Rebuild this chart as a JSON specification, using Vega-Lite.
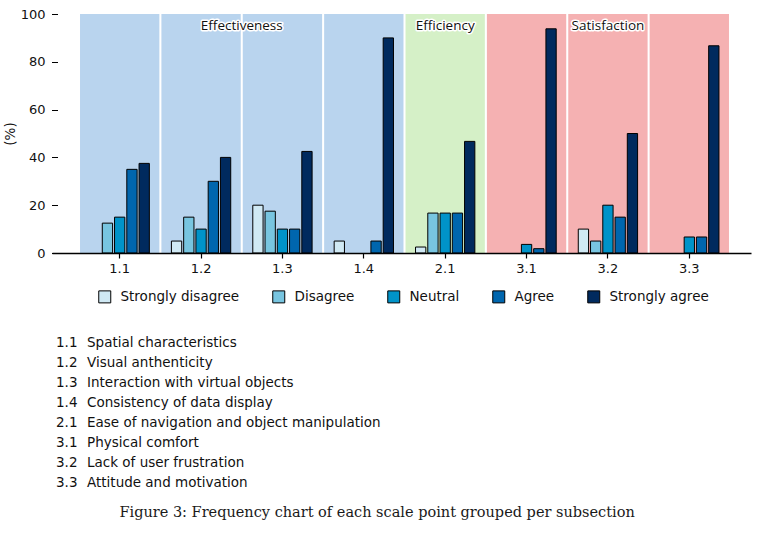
{
  "$schema": "https://vega.github.io/schema/vega-lite/v6.json",
  "background": "white",
  "padding": {"left": 3, "top": 8, "right": 5, "bottom": 5},
  "config": {
    "view": {"stroke": null},
    "font": "DejaVu Sans"
  },
  "title": {
    "text": "Figure 3: Frequency chart of each scale point grouped per subsection",
    "orient": "bottom",
    "anchor": "middle",
    "font": "DejaVu Serif",
    "fontSize": 14.5,
    "fontWeight": "normal",
    "color": "#1a1a1a",
    "offset": 16
  },
  "resolve": {"scale": {"color": "independent", "fill": "independent"}, "legend": {"color": "independent", "fill": "independent"}},
  "datasets": {
    "responses": [
      {"code": "1.1", "response": "Disagree", "pct": 12.5},
      {"code": "1.1", "response": "Neutral", "pct": 15},
      {"code": "1.1", "response": "Agree", "pct": 35},
      {"code": "1.1", "response": "Strongly agree", "pct": 37.5},
      {"code": "1.2", "response": "Strongly disagree", "pct": 5},
      {"code": "1.2", "response": "Disagree", "pct": 15},
      {"code": "1.2", "response": "Neutral", "pct": 10},
      {"code": "1.2", "response": "Agree", "pct": 30},
      {"code": "1.2", "response": "Strongly agree", "pct": 40},
      {"code": "1.3", "response": "Strongly disagree", "pct": 20},
      {"code": "1.3", "response": "Disagree", "pct": 17.5},
      {"code": "1.3", "response": "Neutral", "pct": 10},
      {"code": "1.3", "response": "Agree", "pct": 10},
      {"code": "1.3", "response": "Strongly agree", "pct": 42.5},
      {"code": "1.4", "response": "Strongly disagree", "pct": 5},
      {"code": "1.4", "response": "Agree", "pct": 5},
      {"code": "1.4", "response": "Strongly agree", "pct": 90},
      {"code": "2.1", "response": "Strongly disagree", "pct": 2.5},
      {"code": "2.1", "response": "Disagree", "pct": 16.7},
      {"code": "2.1", "response": "Neutral", "pct": 16.7},
      {"code": "2.1", "response": "Agree", "pct": 16.7},
      {"code": "2.1", "response": "Strongly agree", "pct": 46.7},
      {"code": "3.1", "response": "Neutral", "pct": 3.6},
      {"code": "3.1", "response": "Agree", "pct": 1.8},
      {"code": "3.1", "response": "Strongly agree", "pct": 93.8},
      {"code": "3.2", "response": "Strongly disagree", "pct": 10},
      {"code": "3.2", "response": "Disagree", "pct": 5},
      {"code": "3.2", "response": "Neutral", "pct": 20},
      {"code": "3.2", "response": "Agree", "pct": 15},
      {"code": "3.2", "response": "Strongly agree", "pct": 50},
      {"code": "3.3", "response": "Neutral", "pct": 6.7},
      {"code": "3.3", "response": "Agree", "pct": 6.7},
      {"code": "3.3", "response": "Strongly agree", "pct": 86.7}
    ],
    "sections": [
      {"code": "1.1", "section": "Effectiveness"},
      {"code": "1.2", "section": "Effectiveness"},
      {"code": "1.3", "section": "Effectiveness"},
      {"code": "1.4", "section": "Effectiveness"},
      {"code": "2.1", "section": "Efficiency"},
      {"code": "3.1", "section": "Satisfaction"},
      {"code": "3.2", "section": "Satisfaction"},
      {"code": "3.3", "section": "Satisfaction"}
    ],
    "sectionLabels": [
      {"code": "2.1", "label": "Efficiency"},
      {"code": "3.2", "label": "Satisfaction"}
    ],
    "items": [
      {"code": "1.1", "label": "Spatial characteristics"},
      {"code": "1.2", "label": "Visual anthenticity"},
      {"code": "1.3", "label": "Interaction with virtual objects"},
      {"code": "1.4", "label": "Consistency of data display"},
      {"code": "2.1", "label": "Ease of navigation and object manipulation"},
      {"code": "3.1", "label": "Physical comfort"},
      {"code": "3.2", "label": "Lack of user frustration"},
      {"code": "3.3", "label": "Attitude and motivation"}
    ]
  },
  "spacing": 31,
  "vconcat": [
    {
      "width": 699,
      "height": 239,
      "layer": [
        {
          "data": {"name": "sections"},
          "mark": {"type": "bar", "width": {"band": 0.975}},
          "encoding": {
            "x": {
              "field": "code", "type": "nominal",
              "scale": {"domain": ["1.1","1.2","1.3","1.4","2.1","3.1","3.2","3.3"], "paddingInner": 0, "paddingOuter": 0.295, "align": 0.5625},
              "axis": {
                "title": null, "labelAngle": 0, "domainColor": "black", "domainWidth": 1.3,
                "tickColor": "black", "tickSize": 5, "tickWidth": 1.2, "labelPadding": 4,
                "labelFont": "DejaVu Sans", "labelFontSize": 13, "labelColor": "#111", "zindex": 1
              }
            },
            "y": {
              "datum": 100, "type": "quantitative",
              "scale": {"domain": [0, 100], "nice": false},
              "axis": {
                "title": "(%)", "titleFont": "DejaVu Sans", "titleFontSize": 13.5, "titleFontWeight": "normal",
                "titleColor": "#111", "titlePadding": 3,
                "values": [0, 20, 40, 60, 80, 100], "domain": false, "grid": false,
                "offset": -5.5, "tickSize": 6, "tickColor": "black", "tickWidth": 1,
                "labelPadding": 6.5, "labelFont": "DejaVu Sans", "labelFontSize": 13, "labelColor": "#111"
              }
            },
            "fill": {
              "field": "section", "type": "nominal",
              "scale": {"domain": ["Effectiveness", "Efficiency", "Satisfaction"], "range": ["#b9d4ee", "#d5f0c7", "#f5b1b2"]},
              "legend": null
            }
          }
        },
        {
          "data": {"name": "responses"},
          "mark": {"type": "bar", "stroke": "black", "strokeWidth": 1},
          "encoding": {
            "x": {"field": "code", "type": "nominal"},
            "xOffset": {
              "field": "response", "type": "nominal",
              "scale": {"domain": ["Strongly disagree", "Disagree", "Neutral", "Agree", "Strongly agree"], "paddingInner": 0.16, "paddingOuter": 0.9}
            },
            "y": {"field": "pct", "type": "quantitative"},
            "color": {
              "field": "response", "type": "nominal",
              "scale": {"domain": ["Strongly disagree", "Disagree", "Neutral", "Agree", "Strongly agree"], "range": ["#d0e9f4", "#78c5e0", "#0093c9", "#0066ae", "#002a5e"]},
              "legend": {
                "orient": "none", "legendX": 46, "legendY": 276,
                "direction": "horizontal", "title": null,
                "symbolType": "square", "symbolSize": 144, "symbolStrokeColor": "black", "symbolStrokeWidth": 1,
                "labelFont": "DejaVu Sans", "labelFontSize": 13.5, "labelColor": "#111",
                "columnPadding": 30, "labelOffset": 9
              }
            }
          }
        },
        {
          "data": {"name": "sectionLabels"},
          "encoding": {
            "x": {"field": "code", "type": "nominal"},
            "y": {"datum": 95, "type": "quantitative"},
            "text": {"field": "label"}
          },
          "layer": [
            {"mark": {"type": "text", "font": "Open Sans", "fontSize": 13.5, "stroke": "white", "strokeWidth": 3, "strokeJoin": "round", "baseline": "middle", "align": "center"}},
            {"mark": {"type": "text", "font": "Open Sans", "fontSize": 13.5, "color": "#111", "baseline": "middle", "align": "center"}}
          ]
        },
        {
          "data": {"values": [{"label": "Effectiveness"}]},
          "encoding": {
            "x": {"datum": "1.2", "type": "nominal", "bandPosition": 1},
            "y": {"datum": 95, "type": "quantitative"},
            "text": {"field": "label"}
          },
          "layer": [
            {"mark": {"type": "text", "font": "Open Sans", "fontSize": 13.5, "stroke": "white", "strokeWidth": 3, "strokeJoin": "round", "baseline": "middle", "align": "center"}},
            {"mark": {"type": "text", "font": "Open Sans", "fontSize": 13.5, "color": "#111", "baseline": "middle", "align": "center"}}
          ]
        }
      ]
    },
    {
      "width": 39,
      "height": 140,
      "data": {"name": "items"},
      "encoding": {
        "y": {"field": "code", "type": "ordinal", "scale": {"type": "point", "padding": 0}, "axis": null}
      },
      "layer": [
        {
          "mark": {"type": "text", "align": "left", "baseline": "middle", "font": "DejaVu Sans", "fontSize": 13.5, "color": "#111"},
          "encoding": {
            "x": {"datum": "num", "type": "nominal", "scale": {"type": "point", "domain": ["num", "name"], "padding": 0.129}, "axis": null},
            "text": {"field": "code"}
          }
        },
        {
          "mark": {"type": "text", "align": "left", "baseline": "middle", "font": "DejaVu Sans", "fontSize": 13.5, "color": "#111"},
          "encoding": {
            "x": {"datum": "name", "type": "nominal"},
            "text": {"field": "label"}
          }
        }
      ]
    }
  ]
}
